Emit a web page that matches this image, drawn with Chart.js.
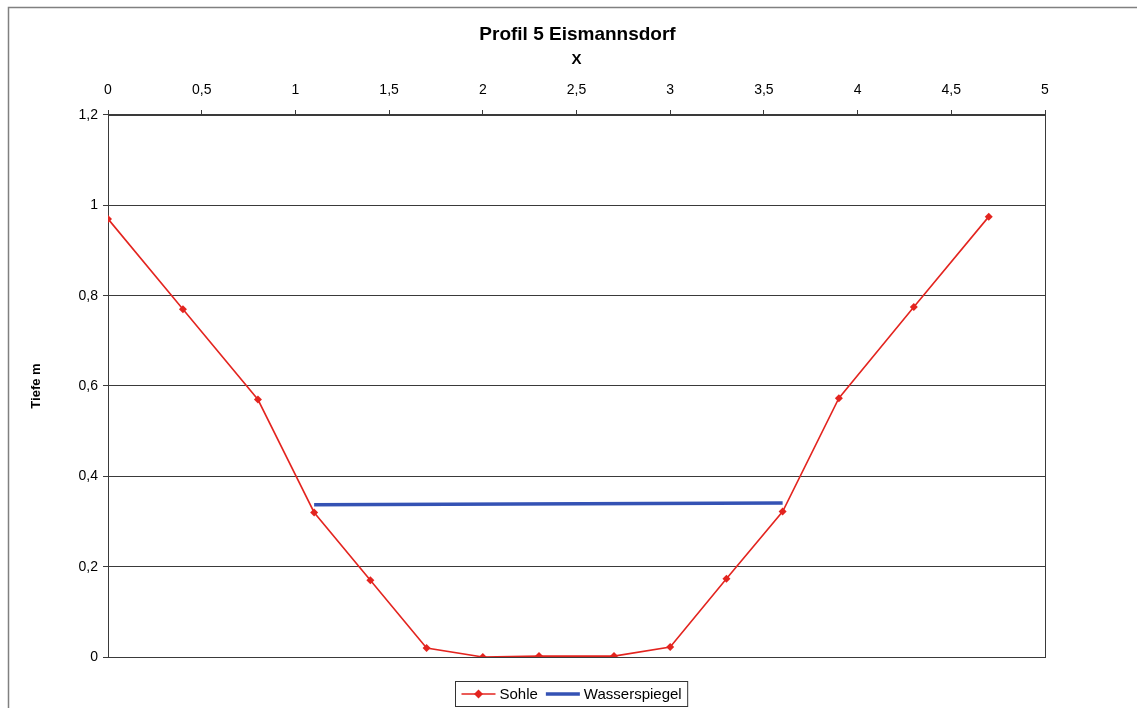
<!DOCTYPE html>
<html>
<head>
<meta charset="utf-8">
<script src="https://cdn.jsdelivr.net/npm/chart.js@4"></script>
<style>
html,body{margin:0;padding:0;background:#fff;}
#wrap{position:relative;width:1137px;height:708px;}
</style>
</head>
<body>
<div id="wrap"><canvas id="c" width="1137" height="708"></canvas></div>
<script>
const chartTitle = 'Profil 5 Eismannsdorf';
const xTitle = 'X';
const yTitle = 'Tiefe m';
const sohleX = [0, 0.4, 0.8, 1.1, 1.4, 1.7, 2.0, 2.3, 2.7, 3.0, 3.3, 3.6, 3.9, 4.3, 4.7];
const sohleY = [0.97, 0.77, 0.57, 0.32, 0.17, 0.02, 0.0, 0.002, 0.002, 0.022, 0.173, 0.322, 0.573, 0.775, 0.975];
const wasserX = [1.1, 3.6];
const wasserY = [0.337, 0.341];
const xTickLabels = ['0','0,5','1','1,5','2','2,5','3','3,5','4','4,5','5'];
const yTickLabels = ['0','0,2','0,4','0,6','0,8','1','1,2'];
const seriesNames = ['Sohle', 'Wasserspiegel'];

const FONT = "'Liberation Sans', Arial, sans-serif";

const framePlugin = {
  id: 'frame',
  beforeDatasetsDraw(chart) {
    const {ctx, chartArea: a} = chart;
    ctx.save();
    ctx.strokeStyle = '#3a3a3a';
    ctx.lineWidth = 1;
    ctx.strokeRect(Math.round(a.left) + 0.5, Math.round(a.top) + 0.5, Math.round(a.right - a.left), Math.round(a.bottom - a.top));
    ctx.restore();
  },
  afterDraw(chart) {
    const {ctx, chartArea: a} = chart;
    ctx.save();
    // outer frame (top and left)
    ctx.strokeStyle = '#808080';
    ctx.lineWidth = 1.5;
    ctx.beginPath();
    ctx.moveTo(8.5, 708);
    ctx.lineTo(8.5, 7.5);
    ctx.lineTo(1137, 7.5);
    ctx.stroke();

    // chart title, centred over plot area
    ctx.fillStyle = '#000';
    ctx.font = 'bold 19px ' + FONT;
    ctx.textAlign = 'center';
    ctx.textBaseline = 'middle';
    ctx.fillText(chartTitle, (a.left + a.right) / 2 + 1, 35);

    // legend
    const ds = chart.data.datasets;
    ctx.font = '15px ' + FONT;
    const sampleW = 34, gap = 4, itemGap = 8;
    let total = 0;
    const widths = ds.map(d => ctx.measureText(d.label).width);
    widths.forEach(w => total += sampleW + gap + w);
    total += itemGap * (ds.length - 1);
    const padX = 6;
    const boxW = total + padX * 2;
    const boxH = 25;
    const cx = 571;
    const boxX = Math.round(cx - boxW / 2) + 0.5;
    const boxY = 681.5;
    ctx.fillStyle = '#fff';
    ctx.fillRect(boxX, boxY, boxW, boxH);
    ctx.strokeStyle = '#333';
    ctx.lineWidth = 1;
    ctx.strokeRect(boxX, boxY, boxW, boxH);
    let x = boxX + padX;
    const y = boxY + boxH / 2;
    ds.forEach((d, i) => {
      ctx.strokeStyle = d.borderColor;
      ctx.lineWidth = d.borderWidth;
      ctx.beginPath();
      ctx.moveTo(x, y);
      ctx.lineTo(x + sampleW, y);
      ctx.stroke();
      if (d.pointRadius > 0) {
        const mx = x + sampleW / 2, r = 4.5;
        ctx.fillStyle = d.pointBackgroundColor;
        ctx.beginPath();
        ctx.moveTo(mx, y - r);
        ctx.lineTo(mx + r, y);
        ctx.lineTo(mx, y + r);
        ctx.lineTo(mx - r, y);
        ctx.closePath();
        ctx.fill();
      }
      x += sampleW + gap;
      ctx.fillStyle = '#000';
      ctx.textBaseline = 'middle';
      ctx.textAlign = 'left';
      ctx.fillText(d.label, x, y + 1);
      x += widths[i] + itemGap;
    });
    ctx.restore();
  }
};

new Chart(document.getElementById('c'), {
  type: 'scatter',
  data: {
    datasets: [
      {
        label: seriesNames[0],
        data: sohleX.map((v, i) => ({x: v, y: sohleY[i]})),
        showLine: true,
        borderColor: '#e3241f',
        backgroundColor: '#e3241f',
        pointBackgroundColor: '#e3241f',
        pointBorderColor: '#e3241f',
        borderWidth: 1.6,
        pointStyle: 'rectRot',
        pointRadius: 4,
        pointBorderWidth: 0,
        tension: 0
      },
      {
        label: seriesNames[1],
        data: wasserX.map((v, i) => ({x: v, y: wasserY[i]})),
        showLine: true,
        borderColor: '#3452b4',
        backgroundColor: '#3452b4',
        pointBackgroundColor: '#3452b4',
        borderWidth: 3.5,
        pointRadius: 0,
        tension: 0
      }
    ]
  },
  options: {
    responsive: false,
    animation: false,
    devicePixelRatio: 1,
    layout: {padding: {left: 10, right: 92, top: 44, bottom: 51}},
    plugins: {
      legend: {display: false},
      tooltip: {enabled: false},
      title: {display: false}
    },
    scales: {
      x: {
        type: 'linear',
        position: 'top',
        min: 0, max: 5,
        afterBuildTicks(scale) {
          scale.ticks = xTickLabels.map((t, i) => ({value: i * 0.5}));
        },
        afterFit(scale) { scale.height = 71; },
        ticks: {
          color: '#000',
          font: {family: FONT, size: 14},
          padding: 11,
          maxRotation: 0,
          autoSkip: false,
          callback: (v, i) => xTickLabels[i]
        },
        grid: {drawOnChartArea: false, drawTicks: true, tickLength: 5, color: '#3a3a3a'},
        border: {display: true, color: '#3a3a3a'},
        title: {
          display: true,
          text: xTitle,
          color: '#000',
          font: {family: FONT, size: 15, weight: 'bold', lineHeight: 1.2},
          padding: {top: 7, bottom: 0}
        }
      },
      y: {
        type: 'linear',
        position: 'left',
        min: 0, max: 1.2,
        afterBuildTicks(scale) {
          scale.ticks = yTickLabels.map((t, i) => ({value: i * 0.2}));
        },
        afterFit(scale) { scale.width = 98; },
        ticks: {
          color: '#000',
          font: {family: FONT, size: 14},
          padding: 5,
          autoSkip: false,
          callback: (v, i) => yTickLabels[i]
        },
        grid: {drawOnChartArea: true, drawTicks: true, tickLength: 5, color: '#3a3a3a', lineWidth: 1},
        border: {display: true, color: '#3a3a3a'},
        title: {
          display: true,
          text: yTitle,
          color: '#000',
          font: {family: FONT, size: 13, weight: 'bold', lineHeight: 1.2},
          padding: {top: 19, bottom: 0}
        }
      }
    }
  },
  plugins: [framePlugin]
});
</script>
</body>
</html>
